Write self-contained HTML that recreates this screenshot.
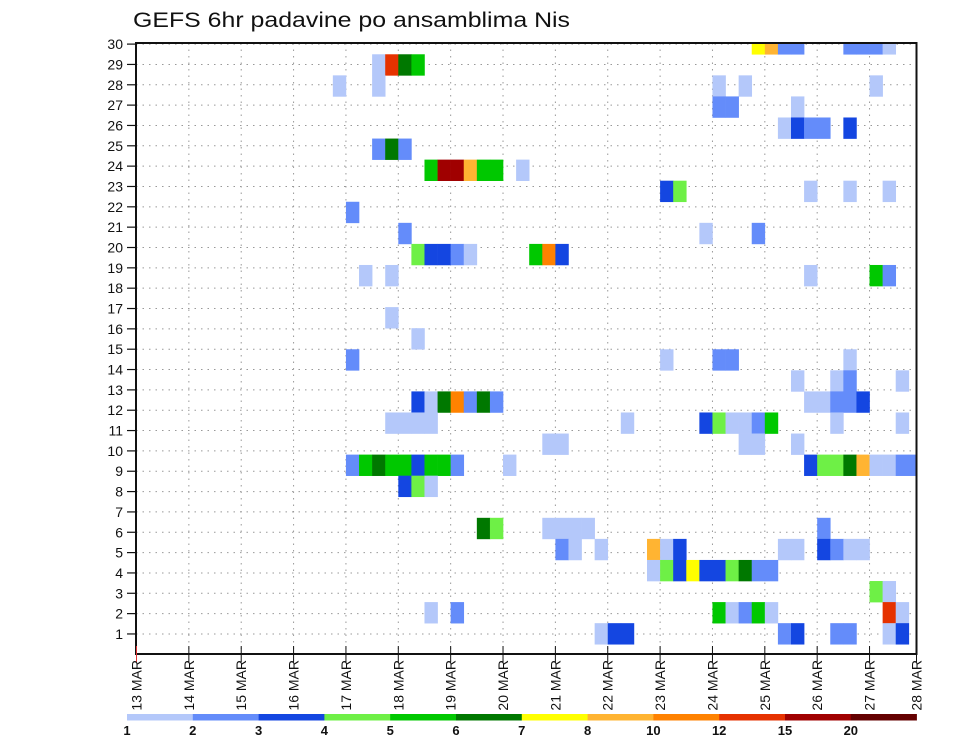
<!DOCTYPE html>
<html><head><meta charset="utf-8"><style>
html,body{margin:0;padding:0;background:#fff;}
svg{display:block;font-family:"Liberation Sans",sans-serif;}
</style></head><body>
<svg id="chart" width="960" height="742" viewBox="0 0 960 742" xmlns="http://www.w3.org/2000/svg">
<text x="133" y="27" font-size="21" textLength="437" lengthAdjust="spacingAndGlyphs" fill="#111">GEFS 6hr padavine po ansamblima Nis</text>
<g id="grid"></g>
<g id="cells" clip-path="url(#clip)"></g>
<defs><clipPath id="clip"><rect x="136" y="43" width="780.5" height="611"/></clipPath></defs>
<rect x="136" y="43" width="780.5" height="611" fill="none" stroke="#111" stroke-width="2"/>
<g id="yaxis"></g>
<g id="xaxis"></g>
<g id="cbar"></g>
</svg>
<script>
const dayLabels = ["13 MAR","14 MAR","15 MAR","16 MAR","17 MAR","18 MAR","19 MAR","20 MAR","21 MAR","22 MAR","23 MAR","24 MAR","25 MAR","26 MAR","27 MAR","28 MAR"];
const memberTicks = [1,2,3,4,5,6,7,8,9,10,11,12,13,14,15,16,17,18,19,20,21,22,23,24,25,26,27,28,29,30];
const levels = [1,2,3,4,5,6,7,8,10,12,15,20];
const levelColors = ["#b4c8fa","#648cfa","#1446e1","#6ef046","#00c800","#007800","#ffff00","#ffb432","#ff8200","#e63200","#a00000","#640000"];
// [6-hour step from 13 MAR 00Z, member row, precipitation mm]
const cells = [
[47,29,7.5],[48,29,9],[49,29,2.5],[50,29,2.5],[54,29,2.5],[55,29,2.5],[56,29,2.5],[57,29,1.5],
[18,28,1.5],[19,28,13],[20,28,6.5],[21,28,5.5],
[15,27,1.5],[18,27,1.5],[44,27,1.5],[46,27,1.5],[56,27,1.5],
[44,26,2.5],[45,26,2.5],[50,26,1.5],
[49,25,1.5],[50,25,3.5],[51,25,2.5],[52,25,2.5],[54,25,3.5],
[18,24,2.5],[19,24,6.5],[20,24,2.5],
[22,23,5.5],[23,23,17],[24,23,17],[25,23,9],[26,23,5.5],[27,23,5.5],[29,23,1.5],
[40,22,3.5],[41,22,4.5],[51,22,1.5],[54,22,1.5],[57,22,1.5],
[16,21,2.5],
[20,20,2.5],[43,20,1.5],[47,20,2.5],
[21,19,4.5],[22,19,3.5],[23,19,3.5],[24,19,2.5],[25,19,1.5],[30,19,5.5],[31,19,11],[32,19,3.5],
[17,18,1.5],[19,18,1.5],[51,18,1.5],[56,18,5.5],[57,18,2.5],
[19,16,1.5],
[21,15,1.5],
[16,14,2.5],[40,14,1.5],[44,14,2.5],[45,14,2.5],[54,14,1.5],
[50,13,1.5],[53,13,1.5],[54,13,2.5],[58,13,1.5],
[21,12,3.5],[22,12,1.5],[23,12,6.5],[24,12,11],[25,12,2.5],[26,12,6.5],[27,12,2.5],[51,12,1.5],[52,12,1.5],[53,12,2.5],[54,12,2.5],[55,12,3.5],
[19,11,1.5],[20,11,1.5],[21,11,1.5],[22,11,1.5],[37,11,1.5],[43,11,3.5],[44,11,4.5],[45,11,1.5],[46,11,1.5],[47,11,2.5],[48,11,5.5],[53,11,1.5],[58,11,1.5],
[31,10,1.5],[32,10,1.5],[46,10,1.5],[47,10,1.5],[50,10,1.5],
[16,9,2.5],[17,9,5.5],[18,9,6.5],[19,9,5.5],[20,9,5.5],[21,9,3.5],[22,9,5.5],[23,9,5.5],[24,9,2.5],[28,9,1.5],[51,9,3.5],[52,9,4.5],[53,9,4.5],[54,9,6.5],[55,9,9],[56,9,1.5],[57,9,1.5],[58,9,2.5],[59,9,2.5],
[20,8,3.5],[21,8,4.5],[22,8,1.5],
[26,6,6.5],[27,6,4.5],[31,6,1.5],[32,6,1.5],[33,6,1.5],[34,6,1.5],[52,6,2.5],
[32,5,2.5],[33,5,1.5],[35,5,1.5],[39,5,9],[40,5,1.5],[41,5,3.5],[49,5,1.5],[50,5,1.5],[52,5,3.5],[53,5,2.5],[54,5,1.5],[55,5,1.5],
[39,4,1.5],[40,4,4.5],[41,4,3.5],[42,4,7.5],[43,4,3.5],[44,4,3.5],[45,4,4.5],[46,4,6.5],[47,4,2.5],[48,4,2.5],
[56,3,4.5],[57,3,1.5],
[22,2,1.5],[24,2,2.5],[44,2,5.5],[45,2,1.5],[46,2,2.5],[47,2,5.5],[48,2,1.5],[57,2,13],[58,2,1.5],
[35,1,1.5],[36,1,3.5],[37,1,3.5],[49,1,2.5],[50,1,3.5],[53,1,2.5],[54,1,2.5],[57,1,1.5],[58,1,3.5]
];

const NS="http://www.w3.org/2000/svg";
const X0=136.5, DAYW=52.36;
function xDay(d){return X0+d*DAYW;}
function xStep(t){return xDay(t/4);}
function yTick(v){return 654.3-v*20.34;}
function yCell(m){return 633.7-(m-1)*21.07;}
const CELLH=21.07;
function colorFor(v){let c=null;for(let i=0;i<levels.length;i++){if(v>=levels[i])c=levelColors[i];}return c;}
function mk(tag,attrs,parent){const e=document.createElementNS(NS,tag);for(const k in attrs)e.setAttribute(k,attrs[k]);parent.appendChild(e);return e;}

const grid=document.getElementById('grid');
memberTicks.forEach(v=>{
  const l=mk('line',{x1:136,x2:916,y1:yTick(v),y2:yTick(v),stroke:'#999','stroke-width':1,'stroke-dasharray':'1.5,5'},grid);
  
  
});
dayLabels.forEach((d,i)=>{
  if(i===0||i===15)return;
  const l=mk('line',{x1:xDay(i),x2:xDay(i),y1:43,y2:654,stroke:'#999','stroke-width':1,'stroke-dasharray':'1.5,5'},grid);
  
  
});

const cg=document.getElementById('cells');
cells.forEach(c=>{
  const x=xStep(c[0]), w=xStep(c[0]+1)-x, yc=yCell(c[1]);
  const r=mk('rect',{x:x,y:yc-CELLH/2,width:w+0.3,height:CELLH+0.3,fill:colorFor(c[2])},cg);
  
  
});

const ya=document.getElementById('yaxis');
memberTicks.forEach(v=>{
  const y=yTick(v);
  const tk=mk('line',{x1:127,x2:136,y1:y,y2:y,stroke:'#111','stroke-width':1.2},ya);
  
  
  const t=mk('text',{x:123,y:y+5,'font-size':14,'text-anchor':'end',fill:'#111'},ya);
  t.textContent=v;
  
  
});

const xa=document.getElementById('xaxis');
dayLabels.forEach((d,i)=>{
  const x=(i===15)?916.5:xDay(i);
  const tk=mk('line',{x1:x,x2:x,y1:646,y2:662,stroke:i===0?'#d33':'#111','stroke-width':1},xa);
  
  
  const t=mk('text',{x:0,y:0,'font-size':14,'text-anchor':'end',fill:'#111',transform:'translate('+(x+5)+',660) rotate(-90)'},xa);
  t.textContent=d;
  
  
});

const cb=document.getElementById('cbar');
const CB0=127, CBW=65.8;
levelColors.forEach((col,i)=>{
  const r=mk('rect',{x:CB0+i*CBW,y:714,width:CBW+0.3,height:6.5,fill:col},cb);
  
  
  const t=mk('text',{x:CB0+i*CBW,y:735,'font-size':13,'font-weight':'bold','text-anchor':'middle',fill:'#111'},cb);
  t.textContent=levels[i];
  
  
});
</script>
</body></html>
